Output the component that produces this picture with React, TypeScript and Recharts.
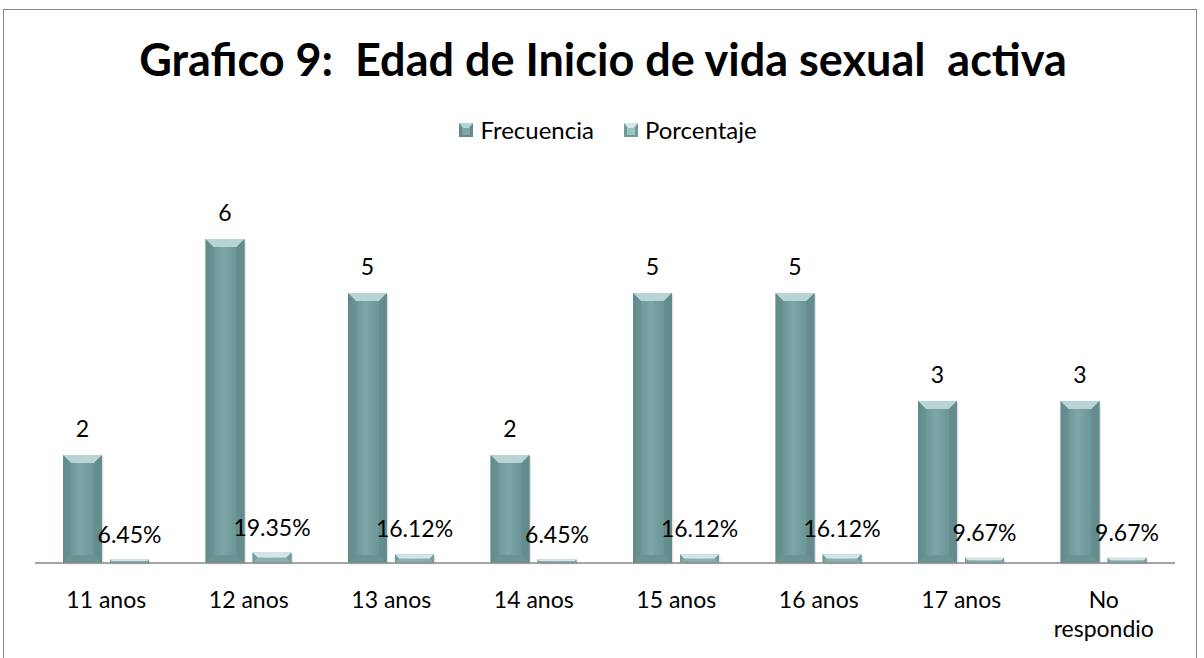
import React from 'react';
import { BarChart, Bar, XAxis, YAxis, LabelList } from 'recharts';

// Grafico 9 — edad de inicio de vida sexual activa
const categories = ['11 anos', '12 anos', '13 anos', '14 anos', '15 anos', '16 anos', '17 anos', 'No respondio'];
const frecuencia = [2, 6, 5, 2, 5, 5, 3, 3];
const porcentaje = [0.0645, 0.1935, 0.1612, 0.0645, 0.1612, 0.1612, 0.0967, 0.0967];
const seriesNames = ['Frecuencia', 'Porcentaje'];

const data = categories.map((c, i) => ({
  name: c,
  Frecuencia: frecuencia[i],
  Porcentaje: porcentaje[i],
}));

const FONT = 'Lato, "Open Sans", sans-serif';

const palette: Record<string, { face: string; edge: string; top: string; bottom: string }> = {
  Frecuencia: { face: '#7ca6a7', edge: '#628b8c', top: '#b8d4d5', bottom: '#6a9394' },
  Porcentaje: { face: '#a0c3c4', edge: '#739a9b', top: '#d3e7e8', bottom: '#89aeaf' },
};

const BevelBar = (props: any) => {
  const { x, y, width, height, dataKey } = props;
  if (!height || height <= 0) return null;
  const c = palette[dataKey] || palette.Frecuencia;
  const b = Math.min(8, height / 2, width / 2);
  const id = `g-${dataKey}`;
  return (
    <g>
      <defs>
        <linearGradient id={id} x1="0" y1="0" x2="1" y2="0">
          <stop offset="0%" stopColor={c.edge} />
          <stop offset="45%" stopColor={c.face} />
          <stop offset="100%" stopColor={c.edge} />
        </linearGradient>
      </defs>
      <rect x={x + 1.5} y={y + 1.5} width={width} height={height} fill="rgba(0,0,0,0.10)" />
      <rect x={x} y={y} width={width} height={height} fill={`url(#${id})`} />
      <polygon points={`${x},${y} ${x + width},${y} ${x + width - b},${y + b} ${x + b},${y + b}`} fill={c.top} />
      <polygon points={`${x},${y} ${x + b},${y + b} ${x + b},${y + height - b} ${x},${y + height}`} fill={c.edge} opacity={0.5} />
      <polygon points={`${x + width},${y} ${x + width - b},${y + b} ${x + width - b},${y + height - b} ${x + width},${y + height}`} fill={c.edge} opacity={0.75} />
      <polygon points={`${x},${y + height} ${x + b},${y + height - b} ${x + width - b},${y + height - b} ${x + width},${y + height}`} fill={c.bottom} />
    </g>
  );
};

// wrap long category names onto several lines (greedy, ~10 chars per line)
const wrapLabel = (s: string, max = 10) => {
  const lines: string[] = [];
  let cur = '';
  s.split(' ').forEach((w) => {
    const next = cur ? `${cur} ${w}` : w;
    if (next.length > max && cur) {
      lines.push(cur);
      cur = w;
    } else cur = next;
  });
  if (cur) lines.push(cur);
  return lines;
};

const CategoryTick = (props: any) => {
  const { x, y, payload } = props;
  const lines = wrapLabel(String(payload.value));
  return (
    <text x={x} y={y + 37} textAnchor="middle" fontFamily={FONT} fontSize={23} fill="#000">
      {lines.map((l, i) => (
        <tspan key={i} x={x} dy={i === 0 ? 0 : 29}>
          {l}
        </tspan>
      ))}
    </text>
  );
};

export default function App() {
  return (
    <div style={{ position: 'absolute', left: 0, top: 0, width: 1204, height: 658, background: '#fff', overflow: 'hidden' }}>
      <div
        style={{
          position: 'absolute',
          left: 3,
          top: 9,
          width: 1194,
          height: 660,
          border: '1px solid #888',
          boxSizing: 'border-box',
        }}
      />
      <div
        style={{
          position: 'absolute',
          left: 0,
          top: 29,
          width: 1206,
          textAlign: 'center',
          fontFamily: FONT,
          fontWeight: 'bold',
          fontSize: 45,
          color: '#000',
          lineHeight: '60px',
          whiteSpace: 'pre',
        }}
      >
        {'Grafico 9:  Edad de Inicio de vida sexual  activa'}
      </div>
      <div
        style={{
          position: 'absolute',
          left: 0,
          top: 116,
          width: 1216,
          display: 'flex',
          justifyContent: 'center',
          gap: 30,
          fontFamily: FONT,
          fontSize: 24,
          color: '#000',
          lineHeight: '28px',
        }}
      >
        {seriesNames.map((n) => {
          const c = palette[n];
          return (
            <span key={n} style={{ display: 'flex', alignItems: 'center' }}>
              <svg width={14} height={14} style={{ marginRight: 7 }}>
                <rect x={0} y={0} width={14} height={14} fill={c.edge} />
                <polygon points="0,0 14,0 10,5 4,5" fill={c.top} />
                <rect x={3} y={5} width={8} height={7} fill={c.face} />
              </svg>
              {n}
            </span>
          );
        })}
      </div>
      <div style={{ position: 'absolute', left: 0, top: 0 }}>
        <BarChart
          width={1204}
          height={658}
          data={data}
          margin={{ top: 185, right: 29, bottom: 35, left: 35 }}
          barGap={8}
          barCategoryGap={28}
        >
          <XAxis
            dataKey="name"
            axisLine={{ stroke: '#868686', strokeWidth: 1.5 }}
            tickLine={false}
            tick={<CategoryTick />}
            height={60}
            interval={0}
          />
          <YAxis hide domain={[0, 7]} />
          <Bar dataKey="Frecuencia" isAnimationActive={false} shape={<BevelBar dataKey="Frecuencia" />}>
            <LabelList dataKey="Frecuencia" position="top" offset={18} fill="#000" fontSize={23} fontFamily={FONT} />
          </Bar>
          <Bar dataKey="Porcentaje" isAnimationActive={false} shape={<BevelBar dataKey="Porcentaje" />}>
            <LabelList
              dataKey="Porcentaje"
              position="top"
              offset={17}
              fill="#000"
              fontSize={23}
              fontFamily={FONT}
              formatter={(v: number) => `${(v * 100).toFixed(2)}%`}
            />
          </Bar>
        </BarChart>
      </div>
    </div>
  );
}
